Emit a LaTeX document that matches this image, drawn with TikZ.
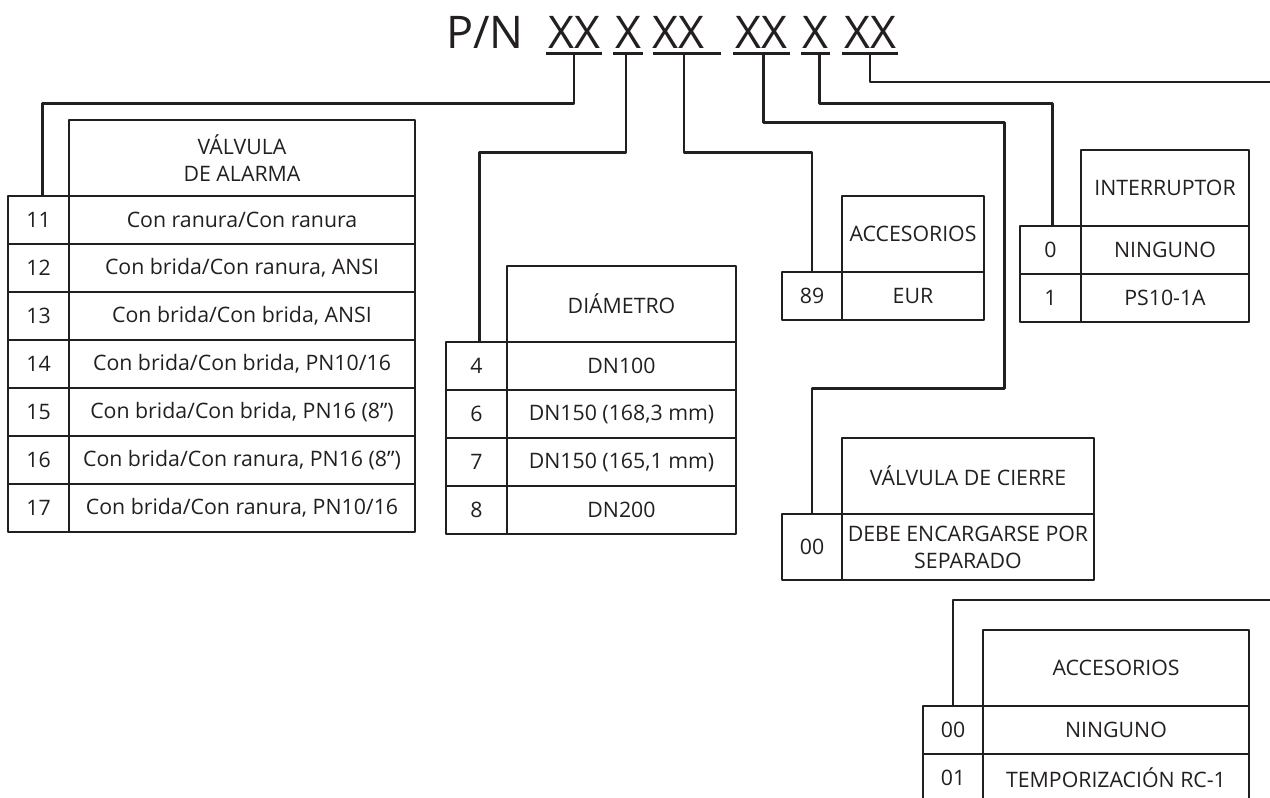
\documentclass[tikz,border=0pt]{standalone}
\usepackage{fontspec}
\setmainfont{Open Sans}
\usetikzlibrary{positioning}
\definecolor{ink}{RGB}{35,31,32}
\tikzset{
  cell/.style={draw=ink,text=ink,line width=2.6pt,outer sep=0pt,inner sep=0pt,
    minimum height=48pt,align=center,font=\fontsize{21.3}{27}\selectfont},
  code/.style={cell,minimum width=61pt},
  head/.style={cell,minimum height=76pt},
  seg/.style={text=ink,inner sep=0pt,text depth=5pt,align=center,
    font=\fontsize{45}{50}\selectfont},
  wire/.style={draw=ink,line width=2.6pt}
}
\begin{document}
\begin{tikzpicture}[x=1pt,y=-1pt,line join=round]
\useasboundingbox (0,0) rectangle (1270,798);
% part number
\node[seg,anchor=base west] (pn) at (446,48) {P/N};
\node[seg,text width=56pt,base right=22pt of pn] (s1) {XX};
\node[seg,text width=29pt,base right=11pt of s1] (s2) {X};
\node[seg,text width=68pt,align=left,base right=10pt of s2] (s3) {XX};
\node[seg,text width=56pt,base right=12pt of s3] (s4) {XX};
\node[seg,text width=29pt,base right=11pt of s4] (s5) {X};
\node[seg,text width=56pt,base right=12pt of s5] (s6) {XX};
\foreach \s in {s1,s2,s3,s4,s5,s6}
  \draw[wire] (\s.south west) -- (\s.south east);
% valvula de alarma
\node[head,minimum width=346pt,anchor=north west] (h1) at (69,120) {VÁLVULA\\DE ALARMA};
\node[cell,minimum width=346pt,below=0pt of h1] (d11) {Con ranura/Con ranura};
\node[code,left=0pt of d11] (c11) {11};
\node[cell,minimum width=346pt,below=0pt of d11] (d12) {Con brida/Con ranura, ANSI};
\node[code,left=0pt of d12] (c12) {12};
\node[cell,minimum width=346pt,below=0pt of d12] (d13) {Con brida/Con brida, ANSI};
\node[code,left=0pt of d13] (c13) {13};
\node[cell,minimum width=346pt,below=0pt of d13] (d14) {Con brida/Con brida, PN10/16};
\node[code,left=0pt of d14] (c14) {14};
\node[cell,minimum width=346pt,below=0pt of d14] (d15) {Con brida/Con brida, PN16 (8”)};
\node[code,left=0pt of d15] (c15) {15};
\node[cell,minimum width=346pt,below=0pt of d15] (d16) {Con brida/Con ranura, PN16 (8”)};
\node[code,left=0pt of d16] (c16) {16};
\node[cell,minimum width=346pt,below=0pt of d16] (d17) {Con brida/Con ranura, PN10/16};
\node[code,left=0pt of d17] (c17) {17};
% diametro
\node[head,minimum width=229pt,anchor=north west] (h2) at (507,266) {DIÁMETRO};
\node[cell,minimum width=229pt,below=0pt of h2] (d4) {DN100};
\node[code,left=0pt of d4] (c4) {4};
\node[cell,minimum width=229pt,below=0pt of d4] (d6) {DN150 (168,3 mm)};
\node[code,left=0pt of d6] (c6) {6};
\node[cell,minimum width=229pt,below=0pt of d6] (d7) {DN150 (165,1 mm)};
\node[code,left=0pt of d7] (c7) {7};
\node[cell,minimum width=229pt,below=0pt of d7] (d8) {DN200};
\node[code,left=0pt of d8] (c8) {8};
% accesorios
\node[head,minimum width=142pt,anchor=north west] (h3) at (842,196) {ACCESORIOS};
\node[cell,minimum width=142pt,below=0pt of h3] (d89) {EUR};
\node[code,minimum width=60pt,left=0pt of d89] (c89) {89};
% interruptor
\node[head,minimum width=168pt,anchor=north west] (h4) at (1081,150) {INTERRUPTOR};
\node[cell,minimum width=168pt,below=0pt of h4] (d0) {NINGUNO};
\node[code,left=0pt of d0] (c0) {0};
\node[cell,minimum width=168pt,below=0pt of d0] (d1) {PS10-1A};
\node[code,left=0pt of d1] (c1) {1};
% valvula de cierre
\node[head,minimum width=252pt,anchor=north west] (h5) at (842,438) {VÁLVULA DE CIERRE};
\node[cell,minimum width=252pt,minimum height=66pt,below=0pt of h5] (dsep) {DEBE ENCARGARSE POR\\SEPARADO};
\node[code,minimum width=60pt,minimum height=66pt,left=0pt of dsep] (csep) {00};
% accesorios (2)
\node[head,minimum width=266pt,anchor=north west] (h6) at (983,630) {ACCESORIOS};
\node[cell,minimum width=266pt,below=0pt of h6] (dnone) {NINGUNO};
\node[code,minimum width=60pt,left=0pt of dnone] (cnone) {00};
\node[cell,minimum width=266pt,below=0pt of dnone] (drc) {TEMPORIZACIÓN RC-1};
\node[code,minimum width=60pt,left=0pt of drc] (crc) {01};
% connectors
\coordinate (e1) at (1272,82);
\coordinate (e2) at (1272,600);
\draw[wire] (s1.south) -- ++(0,50) -| ([xshift=4pt]c11.north);
\draw[wire] ([xshift=-2pt]s2.south) -- ++(0,99) -| ([xshift=3pt]c4.north);
\draw[wire] ([xshift=-3pt]s3.south) -- ++(0,99) -| (c89.north);
\draw[wire] ([xshift=2pt]s4.south) -- ++(0,69) -- ++(241,0) -- ++(0,266) -| (csep.north);
\draw[wire] ([xshift=4pt]s5.south) -- ++(0,50) -| ([xshift=2pt]c0.north);
\draw[wire] (s6.south) |- (e1);
\draw[wire] (e2) -| (cnone.north);
\end{tikzpicture}
\end{document}
